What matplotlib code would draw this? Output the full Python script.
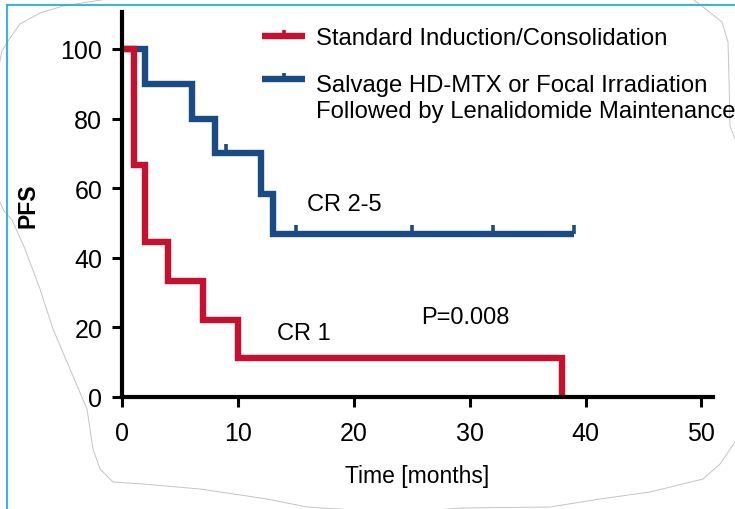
import matplotlib
matplotlib.use("Agg")
import matplotlib.pyplot as plt
from matplotlib.path import Path
from matplotlib.lines import Line2D

# --- data -------------------------------------------------------------
std_time = [0, 1, 2, 4, 7, 10, 38]
std_pfs = [100, 66.7, 44.4, 33.3, 22.2, 11.1, 0]

salv_time = [0, 2, 6, 8, 12, 13, 39]
salv_pfs = [100, 90, 80, 70, 58.3, 46.7, 46.7]
salv_cens_time = [9, 15, 25, 32, 39]
salv_cens_pfs = [70, 46.7, 46.7, 46.7, 46.7]

x_ticks = [0, 10, 20, 30, 40, 50]
y_ticks = [0, 20, 40, 60, 80, 100]

std_label = "Standard Induction/Consolidation"
salv_label = "Salvage HD-MTX or Focal Irradiation\nFollowed by Lenalidomide Maintenance"

# --- style ------------------------------------------------------------
RED = "#C5102F"
BLUE = "#1A4B84"
W, H = 735, 510

plt.rcParams["font.family"] = ["Liberation Sans", "DejaVu Sans"]

# upward censor tick
cens_marker = Path([(0, 0), (0, 1)], [Path.MOVETO, Path.LINETO])

fig = plt.figure(figsize=(W / 100, H / 100), dpi=100)
fig.patch.set_facecolor("white")


def px(x, y):
    """pixel position (from top-left) -> figure fraction"""
    return x / W, 1 - y / H


# decorative outline around the plot panel
outline = [(-6, 90), (2, 52), (8, 42), (20, 25), (40, 14), (63, 7), (120, -2),
           (690, -2), (703, 8), (722, 23), (728, 43), (729, 80), (730, 127),
           (735, 140), (748, 200), (748, 400), (735, 443), (720, 465),
           (703, 480), (650, 493), (600, 500), (550, 508), (460, 509),
           (400, 514), (307, 508), (267, 500), (200, 490), (143, 485),
           (113, 483), (100, 470), (93, 450), (87, 410), (70, 370), (53, 330),
           (40, 290), (25, 250), (12, 221), (4, 212), (-6, 190)]
ox, oy = zip(*[px(x, y) for x, y in outline])
fig.add_artist(Line2D(ox, oy, transform=fig.transFigure, color="#c4c4c4",
                      lw=0.7, zorder=0))

# cyan frame lines on the left and top
fig.add_artist(Line2D([7 / W, 7 / W], [0, 1 - 6 / H], transform=fig.transFigure,
                      color="#22AEE6", lw=1.3, zorder=1))
fig.add_artist(Line2D([7 / W, 1], [1 - 6 / H, 1 - 6 / H], transform=fig.transFigure,
                      color="#22AEE6", lw=1.3, zorder=1))

ax_l, ax_r, ax_t, ax_b = 122, 713, 12.7, 398
ax = fig.add_axes([ax_l / W, 1 - ax_b / H, (ax_r - ax_l) / W, (ax_b - ax_t) / H])
ax.set_facecolor("none")
ax.set_xlim(0, 51)
ax.set_ylim(0, 110.7)

# curves
ax.step(salv_time, salv_pfs, where="post", color=BLUE, lw=4.6,
        solid_joinstyle="miter", solid_capstyle="butt", clip_on=False, zorder=3)
ax.plot(salv_cens_time, salv_cens_pfs, ls="none", marker=cens_marker,
        markersize=13.5, markeredgewidth=2.6, color=BLUE, clip_on=False, zorder=3)
ax.step(std_time, std_pfs, where="post", color=RED, lw=4.6,
        solid_joinstyle="miter", solid_capstyle="butt", clip_on=False, zorder=4)

# axes styling
for s in ("top", "right"):
    ax.spines[s].set_visible(False)
for s in ("left", "bottom"):
    ax.spines[s].set_linewidth(3)
    ax.spines[s].set_zorder(5)
ax.set_xticks(x_ticks)
ax.set_yticks(y_ticks)
ax.tick_params(axis="both", length=7.2, width=2.2, labelsize=18, colors="black")
ax.tick_params(axis="x", pad=10)
ax.tick_params(axis="y", pad=7)

ax.set_xlabel("Time [months]", fontsize=16.5, va="center")
ax.xaxis.set_label_coords(0.5, -(477 - ax_b) / (ax_b - ax_t))
ax.set_ylabel("PFS", fontsize=16.5, fontweight="bold", va="center")
ax.yaxis.set_label_coords(-(ax_l - 28) / (ax_r - ax_l), 0.5)

# annotations
ax.text(16, 55.5, "CR 2-5", fontsize=17, va="center", ha="left")
ax.text(13.4, 18.4, "CR 1", fontsize=17, va="center", ha="left")
ax.text(25.8, 23.1, "P=0.008", fontsize=17, va="center", ha="left")

# legend
for (y, col) in ((37, RED), (80, BLUE)):
    (x0, yy), (x1, _) = px(262, y), px(305, y)
    fig.add_artist(Line2D([x0, x1], [yy, yy], transform=fig.transFigure,
                          color=col, lw=4.6, solid_capstyle="butt"))
    fig.add_artist(Line2D([px(283.5, y)[0]], [yy], transform=fig.transFigure,
                          ls="none", marker=cens_marker, markersize=9,
                          markeredgewidth=2.6, color=col))
fig.text(*px(316, 45), std_label, fontsize=17.2, va="baseline", ha="left")
fig.text(*px(316, 118.3), salv_label, fontsize=17.2, va="baseline", ha="left",
         linespacing=1.25)

fig.savefig("out.png", dpi=100, facecolor="white")
